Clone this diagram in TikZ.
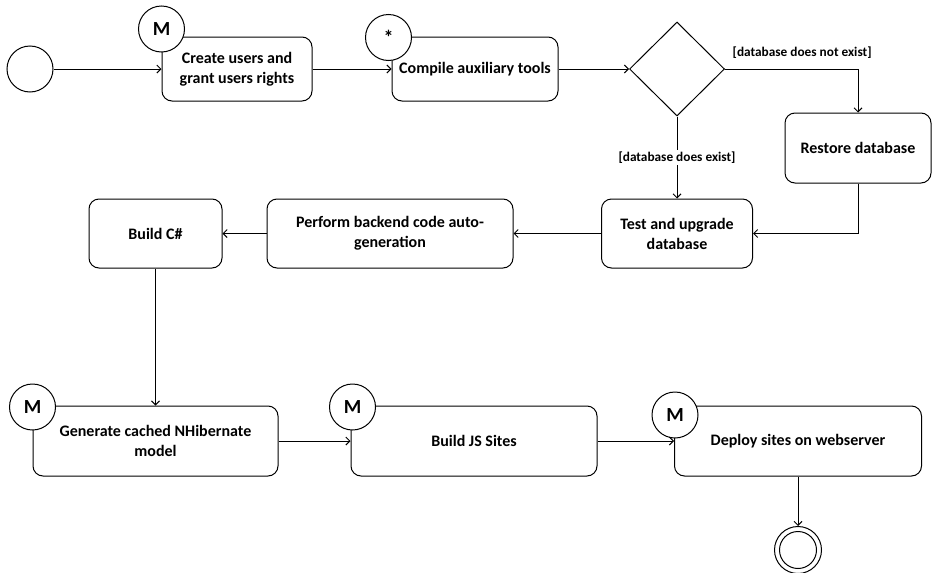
\documentclass[tikz,border=0pt]{standalone}
\usepackage{fontspec}
\setmainfont{Carlito}
\usetikzlibrary{shapes.geometric,arrows.meta,positioning}

\begin{document}
\begin{tikzpicture}[x=1pt,y=-1pt,line width=1pt,
    >={Straight Barb[length=4pt,width=8pt]},
    act/.style={draw,rounded corners=10pt,align=center,inner sep=0pt,
      font=\bfseries\fontsize{16}{20}\selectfont,minimum height=70pt},
    badge/.style={draw,circle,fill=white,minimum size=46pt,inner sep=0pt,
      font=\bfseries\fontsize{20}{24}\selectfont},
    guard/.style={font=\bfseries\fontsize{13.3}{16}\selectfont,inner sep=2pt}]
  \useasboundingbox (0,0) rectangle (932,573);

  \node[circle,draw,minimum size=46pt] (start) at (30,69) {};
  \node[act,minimum width=150pt,minimum height=64pt] (create) at (237,69) {Create users and\\grant users rights};
  \node[act,minimum width=166pt,minimum height=64pt] (compile) at (475,69) {Compile auxiliary tools};
  \node[diamond,draw,minimum width=95pt,minimum height=94pt,inner sep=0pt] (dec) at (677,69) {};
  \node[act,minimum width=146pt] (restore) at (858,148) {Restore database};
  \node[act,minimum width=151pt,minimum height=69pt] (test) at (677,233.5) {Test and upgrade\\database};
  \node[act,minimum width=246pt,minimum height=69pt] (perform) at (390,233.5) {Perform backend code auto-\\generation};
  \node[act,minimum width=133pt,minimum height=69pt] (buildcs) at (155.5,233.5) {Build C\#};
  \node[act,minimum width=245pt] (generate) at (155.5,441) {Generate cached NHibernate\\model};
  \node[act,minimum width=246pt] (buildjs) at (474,441) {Build JS Sites};
  \node[act,minimum width=247pt] (deploy) at (798,441) {Deploy sites on webserver};
  \node[circle,draw,minimum size=47pt] (stop) at (798,550) {};
  \node[circle,draw,minimum size=37pt] (stopin) at (stop) {};

  % badges on the corners
  \node[badge] (createM) at (161.5,29) {M};
  \node[badge] (compileS) at (388.5,37.5) {*};
  \node[badge] (generateM) at (32.5,407) {M};
  \node[badge] (buildjsM) at (352.5,407) {M};
  \node[badge] (deployM) at (675,415) {M};

  \path[->]
    (start) edge (create)
    (create) edge (compile)
    (compile) edge (dec)
    (test) edge (perform)
    (perform) edge (buildcs)
    (buildcs) edge (generate)
    (generate) edge (buildjs)
    (buildjs) edge (deploy)
    (deploy) edge (stop);
  \draw[->] (dec.east) -| node[guard,above=8pt,pos=0.29] {[database does not exist]} (restore.north);
  \draw[->] (dec.south) -- node[guard,fill=white] {[database does exist]} (test.north);
  \draw[->] (restore.south) |- (test.east);
\end{tikzpicture}
\end{document}
